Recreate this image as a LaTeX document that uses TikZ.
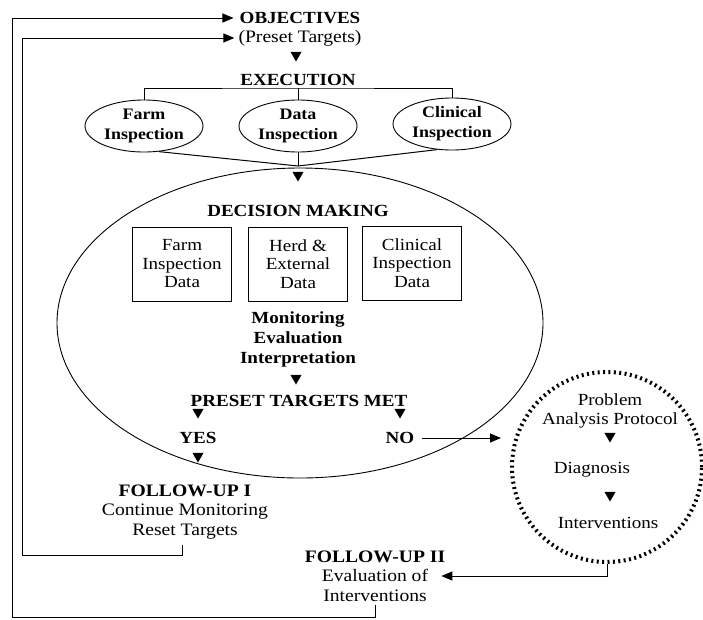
\documentclass[tikz,border=0pt]{standalone}
\usepackage{fontspec}
\setmainfont[FakeStretch=1.12]{Liberation Serif}
\usetikzlibrary{shapes.geometric,arrows.meta}
\definecolor{myblack}{rgb}{0.000,0.000,0.000}
\definecolor{mywhite}{rgb}{1.000,1.000,1.000}
\tikzstyle{head}=[font=\fontsize{17}{20}\selectfont\bfseries,align=center,inner sep=0pt]
\tikzstyle{plain}=[font=\fontsize{17.5}{19.5}\selectfont,align=center,inner sep=0pt]
\tikzstyle{ringtext}=[font=\fontsize{17}{18.5}\selectfont,align=center,inner sep=0pt]
\tikzstyle{oval}=[ellipse,draw=myblack,line width=0.9pt,minimum width=118pt,minimum height=52pt,inner sep=0pt,align=center,font=\fontsize{16}{20}\selectfont\bfseries]
\tikzstyle{bigoval}=[ellipse,draw=myblack,line width=0.9pt,minimum width=486pt,minimum height=310pt,inner sep=0pt]
\tikzstyle{databox}=[rectangle,draw=myblack,line width=0.9pt,minimum width=99pt,minimum height=74pt,inner sep=0pt,align=center,font=\fontsize{17}{18.5}\selectfont]
\tikzstyle{ring}=[circle,draw=myblack,line width=4pt,dash pattern=on 2pt off 3.4pt,minimum size=190pt,inner sep=0pt]
\tikzstyle{tri}=[regular polygon,regular polygon sides=3,shape border rotate=180,fill=myblack,minimum size=13pt,inner sep=0pt]
\tikzstyle{wire}=[draw=myblack,line width=1pt]
\tikzstyle{flow}=[wire,-{Triangle[length=11pt,width=9pt]}]

\begin{document}
\begin{tikzpicture}[x=1pt,y=-1pt]
	\useasboundingbox (0,0) rectangle (703,619);
	% objectives and execution
		\node [style=head] (0) at (300,18) {OBJECTIVES};
		\node [style=plain] (1) at (300,38) {(Preset Targets)};
		\node [style=tri] (2) at (296,55) {};
		\node [style=head] (3) at (298,80) {EXECUTION};
		\node [style=oval] (4) at (144,126) {Farm\\Inspection};
		\node [style=oval] (5) at (298,126) {Data\\Inspection};
		\node [style=oval] (6) at (452,124) {Clinical\\Inspection};
		\coordinate (7) at (298,88);
		\coordinate (8) at (298,166);
	% decision making
		\node [style=bigoval] (9) at (300,323) {};
		\node [style=tri] (10) at (298,175) {};
		\node [style=head] (11) at (298,211) {DECISION MAKING};
		\node [style=databox] (12) at (182,264) {Farm\\Inspection\\Data};
		\node [style=databox] (13) at (298,264) {Herd \&\\External\\Data};
		\node [style=databox] (14) at (412,263) {Clinical\\Inspection\\Data};
		\node [style=head] (15) at (298,339) {Monitoring\\Evaluation\\Interpretation};
		\node [style=tri] (16) at (296,378) {};
		\node [style=head] (17) at (299,401) {PRESET TARGETS MET};
		\node [style=tri] (18) at (198,412) {};
		\node [style=tri] (19) at (400,412) {};
		\node [style=head] (20) at (198,438) {YES};
		\node [style=head] (21) at (400,438) {NO};
		\node [style=tri] (22) at (198,456) {};
	% follow-up
		\node [style=plain] (23) at (185,512) {\textbf{FOLLOW-UP I}\\Continue Monitoring\\Reset Targets};
		\node [style=plain] (24) at (375,576) {\textbf{FOLLOW-UP II}\\Evaluation of\\Interventions};
	% problem analysis
		\node [style=ring] (25) at (607,467) {};
		\node [style=ringtext] (26) at (610,411) {Problem\\Analysis Protocol};
		\node [style=tri] (27) at (610,436) {};
		\node [style=ringtext] (28) at (592,470) {Diagnosis};
		\node [style=tri] (29) at (610,495) {};
		\node [style=ringtext] (30) at (608,523) {Interventions};
	% connectors
		\draw [style=wire] (4.north) |- (7) -| (6.north);
		\draw [style=wire] (5.north) -- (7);
		\draw [style=wire] (4.-60) -- (8);
		\draw [style=wire] (6.-120) -- (8);
		\draw [style=wire] (5.south) -- (8);
		\draw [style=flow] (21.east) ++(8,0) -- (501,438);
		\draw [style=flow] (25.south) |- ([xshift=-4pt]24.east);
		\draw [style=flow] (182,545) |- (22,555) |- ([xshift=-4pt]1.west);
		\draw [style=flow] (24.south) ++(0,3) |- (12,617) |- ([xshift=-6pt]0.west);
\end{tikzpicture}
\end{document}
